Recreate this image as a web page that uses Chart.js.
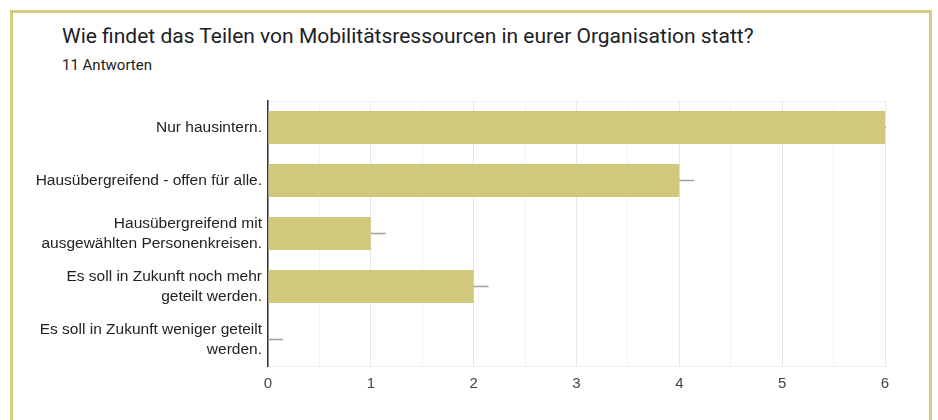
<!DOCTYPE html>
<html>
<head>
<meta charset="utf-8">
<script src="https://cdn.jsdelivr.net/npm/chart.js@4"></script>
<style>
  body { margin: 0; background: #fff; width: 938px; height: 420px; overflow: hidden; position: relative; }
  .card { position: absolute; left: 10px; top: 10px; width: 916px; height: 430px; border: 3px solid #d6cc7f; border-bottom: none; }
  .title { position: absolute; left: 62px; top: 24px; font: 21px Roboto, sans-serif; color: #202124; }
  .sub { position: absolute; left: 62px; top: 56px; font: 15px Roboto, sans-serif; color: #202124; }
  #chart { position: absolute; left: 0; top: 0; }
</style>
</head>
<body>
<div class="card"></div>
<div class="title">Wie findet das Teilen von Mobilitätsressourcen in eurer Organisation statt?</div>
<div class="sub">11 Antworten</div>
<canvas id="chart" width="938" height="420"></canvas>
<script>
const categories = [
    'Nur hausintern.',
    'Hausübergreifend - offen für alle.',
    ['Hausübergreifend mit', 'ausgewählten Personenkreisen.'],
    ['Es soll in Zukunft noch mehr', 'geteilt werden.'],
    ['Es soll in Zukunft weniger geteilt', 'werden.']
]
const counts = [6, 4, 1, 2, 0]
const xTicks = [0, 1, 2, 3, 4, 5, 6]

// small gray line at the end of each bar, like in the forms summary
const endMarks = {
    id: 'endMarks',
    afterDatasetsDraw(chart) {
        const ctx = chart.ctx
        const area = chart.chartArea
        ctx.save()
        ctx.beginPath()
        ctx.rect(area.left, area.top, area.right - area.left + 1, area.bottom - area.top)
        ctx.clip()
        ctx.strokeStyle = '#a0a0a0'
        ctx.lineWidth = 1.5
        chart.getDatasetMeta(0).data.forEach(bar => {
            ctx.beginPath()
            ctx.moveTo(bar.x, bar.y)
            ctx.lineTo(bar.x + 15, bar.y)
            ctx.stroke()
        })
        ctx.restore()
    }
}

new Chart(document.getElementById('chart'), {
    type: 'bar',
    data: {
        labels: categories,
        datasets: [{
            data: counts,
            backgroundColor: '#d0c87c',
            borderWidth: 0,
            categoryPercentage: 1,
            barPercentage: 0.62
        }]
    },
    options: {
        indexAxis: 'y',
        responsive: false,
        animation: false,
        layout: { padding: { top: 101, right: 53, bottom: 24, left: 0 } },
        plugins: { legend: { display: false }, tooltip: { enabled: false } },
        scales: {
            x: {
                min: xTicks[0],
                max: xTicks[xTicks.length - 1],
                afterFit: s => { s.height = 30 },
                ticks: {
                    stepSize: 0.5,
                    padding: 9,
                    autoSkip: false,
                    maxRotation: 0,
                    color: '#444',
                    font: { family: 'Liberation Sans', size: 15 },
                    callback: v => xTicks.includes(v) ? String(v) : ''
                },
                grid: {
                    drawTicks: false,
                    color: c => (c.tick && Number.isInteger(c.tick.value)) ? '#e8e8e8' : '#f3f3f3'
                },
                border: { color: '#eeeeee' }
            },
            y: {
                afterFit: s => { s.width = 268 },
                ticks: {
                    padding: 6,
                    color: '#222',
                    font: { family: 'Liberation Sans', size: 15.5, lineHeight: 1.3 }
                },
                grid: {
                    drawTicks: false,
                    offset: true,
                    color: c => (c.index === 0 || c.index === categories.length) ? '#eeeeee' : 'rgba(0,0,0,0)'
                },
                border: { display: true, color: '#333', width: 1.5 }
            }
        }
    },
    plugins: [endMarks]
})
</script>
</body>
</html>
